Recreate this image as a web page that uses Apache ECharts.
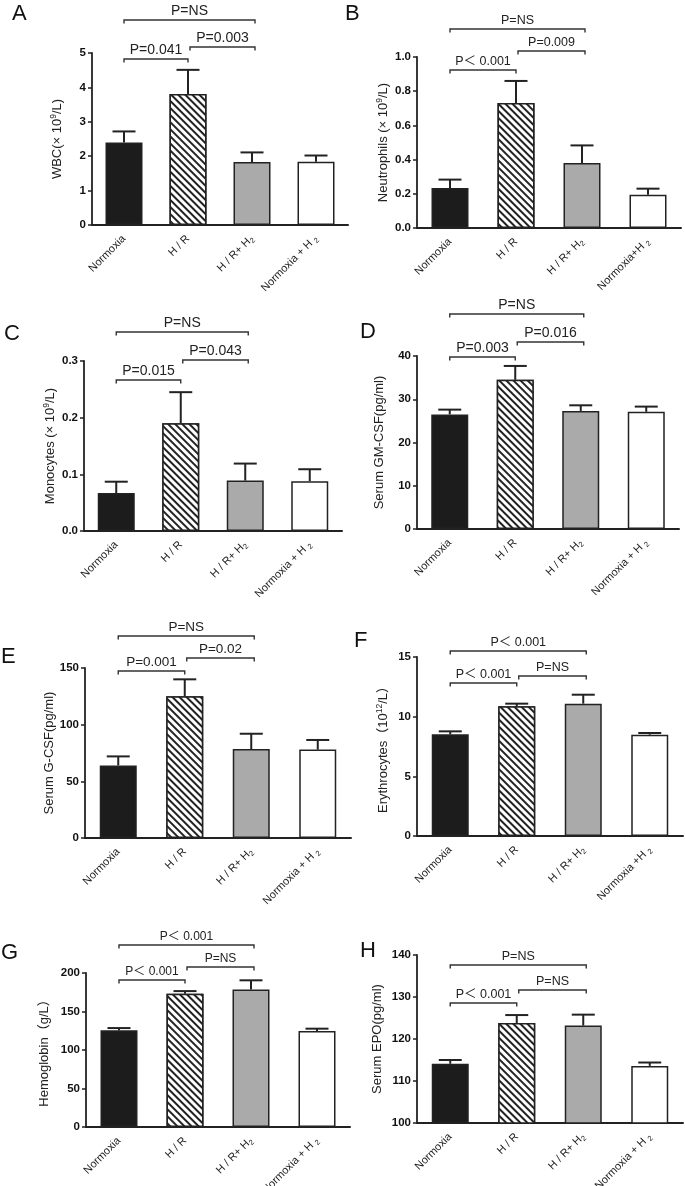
<!DOCTYPE html>
<html><head><meta charset="utf-8">
<script src="https://cdn.jsdelivr.net/npm/echarts@6.0.0/dist/echarts.min.js"></script>
<style>html,body{margin:0;padding:0;background:#fff}#c{width:685px;height:1186px}</style>
</head><body><div id="c"></div>
<script>
// ---------- DATA ----------
const categories  = ['Normoxia', 'H / R', 'H / R+ H2', 'Normoxia + H 2'];
const categoriesB = ['Normoxia', 'H / R', 'H / R+ H2', 'Normoxia+H 2'];
const categoriesF = ['Normoxia', 'H / R', 'H / R+ H2', 'Normoxia +H 2'];

const wbcMean   = [2.40, 3.81, 1.83, 1.84];
const wbcErr    = [2.72, 4.51, 2.11, 2.02];
const neuMean   = [0.234, 0.731, 0.380, 0.195];
const neuErr    = [0.283, 0.860, 0.483, 0.230];
const monoMean  = [0.067, 0.190, 0.089, 0.088];
const monoErr   = [0.087, 0.245, 0.119, 0.109];
const gmcsfMean = [26.5, 34.5, 27.3, 27.1];
const gmcsfErr  = [27.6, 37.7, 28.6, 28.3];
const gcsfMean  = [64, 125, 78.5, 78];
const gcsfErr   = [72, 140, 92, 86.5];
const eryMean   = [8.52, 10.87, 11.09, 8.49];
const eryErr    = [8.77, 11.09, 11.84, 8.63];
const hbMean    = [125.5, 173, 178.5, 124.7];
const hbErr     = [128.5, 176.5, 190.5, 127.7];
const epoMean   = [114.1, 123.8, 123.2, 113.6];
const epoErr    = [115.0, 125.7, 125.8, 114.4];

const compA = [[0,1,'P=0.041'],[1,2,'P=0.003'],[0,2,'P=NS']];
const compB = [[0,1,'P＜ 0.001'],[1,2,'P=0.009'],[0,2,'P=NS']];
const compC = [[0,1,'P=0.015'],[1,2,'P=0.043'],[0,2,'P=NS']];
const compD = [[0,1,'P=0.003'],[1,2,'P=0.016'],[0,2,'P=NS']];
const compE = [[0,1,'P=0.001'],[1,2,'P=0.02'],[0,2,'P=NS']];
const compF = [[0,1,'P＜ 0.001'],[1,2,'P=NS'],[0,2,'P＜ 0.001']];
const compG = [[0,1,'P＜ 0.001'],[1,2,'P=NS'],[0,2,'P＜ 0.001']];
const compH = [[0,1,'P＜ 0.001'],[1,2,'P=NS'],[0,2,'P=NS']];

const yTitles = ['WBC(× 10^9/L)', 'Neutrophils (× 10^9/L)', 'Monocytes (× 10^9/L)', 'Serum GM-CSF(pg/ml)',
                 'Serum G-CSF(pg/ml)', 'Erythrocytes（10^12/L）', 'Hemoglobin（g/L）', 'Serum EPO(pg/ml)'];
const letters = ['A','B','C','D','E','F','G','H'];

// ---------- LAYOUT / STYLE ----------
const FONT = '"Liberation Sans", Arial, "Noto Sans CJK SC", sans-serif';
const panels = [
  {cats: categories,  mean: wbcMean,   err: wbcErr,   comp: compA, min:0,   max:5,   iv:1,   dec:0,
   g:{left:92, top:53, width:256, height:172}, bOff:[6,-6,-33],   pFont:14,   nameGap:27, L:[20,15]},
  {cats: categoriesB, mean: neuMean,   err: neuErr,   comp: compB, min:0,   max:1,   iv:0.2, dec:1,
   g:{left:417, top:57, width:264, height:171}, bOff:[13,-6,-28], pFont:12.5, nameGap:26, L:[353,15]},
  {cats: categories,  mean: monoMean,  err: monoErr,  comp: compC, min:0,   max:0.3, iv:0.1, dec:1,
   g:{left:84, top:361, width:258, height:170}, bOff:[19,-1,-29], pFont:14,   nameGap:26, L:[12,335]},
  {cats: categories,  mean: gmcsfMean, err: gmcsfErr, comp: compD, min:0,   max:40,  iv:10,  dec:0,
   g:{left:417, top:356, width:262, height:173}, bOff:[1,-14,-42], pFont:14,  nameGap:31, L:[368,333]},
  {cats: categories,  mean: gcsfMean,  err: gcsfErr,  comp: compE, min:0,   max:150, iv:50,  dec:0,
   g:{left:85, top:668, width:266, height:170}, bOff:[3,-10,-32], pFont:13.5, nameGap:29, L:[9,658]},
  {cats: categoriesF, mean: eryMean,   err: eryErr,   comp: compF, min:0,   max:15,  iv:5,   dec:0,
   g:{left:417, top:657, width:266, height:179}, bOff:[26,19,-6], pFont:12.5, nameGap:26, L:[362,642]},
  {cats: categories,  mean: hbMean,    err: hbErr,    comp: compG, min:0,   max:200, iv:50,  dec:0,
   g:{left:86, top:973, width:264, height:154}, bOff:[7,-6,-28],  pFont:12,   nameGap:35, L:[9,954]},
  {cats: categories,  mean: epoMean,   err: epoErr,   comp: compH, min:100, max:140, iv:10,  dec:0,
   g:{left:417, top:955, width:266, height:168}, bOff:[48,35,10], pFont:12.5, nameGap:33, L:[368,952]}
];

const INK = '#222';
const barStyles = [
  {color:'#1c1c1c', borderColor:INK, borderWidth:1.5},
  {color:'#ffffff', borderColor:INK, borderWidth:1.5,
   decal:{symbol:'rect', symbolSize:1, color:'#222', backgroundColor:'#fff',
          dashArrayX:[1,0], dashArrayY:[1.3,2.2], rotation:Math.PI/4}},
  {color:'#aaaaaa', borderColor:INK, borderWidth:1.5},
  {color:'#ffffff', borderColor:INK, borderWidth:1.5}
];

function xLabel(v){
  if (/2$/.test(v)) return '{n|' + v.slice(0,-1) + '}{s|2}';
  return '{n|' + v + '}';
}
function yName(t){
  const parts = t.split(/\^(\d+)/);
  let out = '';
  parts.forEach((p,i)=>{ if(!p) return; out += (i%2 ? '{p|'+p+'}' : '{n|'+p+'}'); });
  return out;
}

const grid=[], xAxis=[], yAxis=[], series=[], graphic=[];
panels.forEach((P, k) => {
  grid.push(Object.assign({outerBoundsMode:'none', containLabel:false}, P.g));
  xAxis.push({type:'category', gridIndex:k, data:P.cats,
    axisLine:{lineStyle:{color:INK, width:2}},
    axisTick:{alignWithLabel:true, length:4, lineStyle:{color:INK, width:1.5}},
    axisLabel:{interval:0, rotate:45, margin:12, color:'#222', formatter:xLabel,
      rich:{n:{fontSize:11, fontFamily:FONT, color:'#222'},
            s:{fontSize:7.5, fontFamily:FONT, color:'#222', padding:[6,0,0,0]}}},
    splitLine:{show:false}});
  yAxis.push({type:'value', gridIndex:k, min:P.min, max:P.max, interval:P.iv,
    name:yName(yTitles[k]), nameLocation:'middle', nameGap:P.nameGap, nameRotate:90,
    nameTextStyle:{rich:{n:{fontSize:13, fontFamily:FONT, color:'#222'},
                         p:{fontSize:8.5, fontFamily:FONT, color:'#222', padding:[0,0,7,0]}}},
    axisLine:{show:true, lineStyle:{color:INK, width:1.8}},
    axisTick:{show:true, length:4, lineStyle:{color:INK, width:1.5}},
    axisLabel:{fontSize:11.5, fontWeight:'bold', fontFamily:FONT, color:'#111', margin:6,
      formatter:v=>v.toFixed(P.dec)},
    splitLine:{show:false}});
  series.push({type:'bar', xAxisIndex:k, yAxisIndex:k, barWidth:37, startValue:P.min,
    data:P.mean.map((v,i)=>({value:v, itemStyle:barStyles[i]})), z:2, silent:true});
  series.push({type:'custom', xAxisIndex:k, yAxisIndex:k, z:3, silent:true,
    data:P.mean.map((v,i)=>[i, v, P.err[i]]), encode:{x:0, y:[1,2]},
    renderItem:(params, api)=>{
      const a = api.coord([api.value(0), api.value(1)]);
      const b = api.coord([api.value(0), api.value(2)]);
      const hw = 11.5;
      return {type:'group', children:[
        {type:'line', shape:{x1:a[0], y1:a[1], x2:b[0], y2:b[1]}, style:{stroke:INK, lineWidth:2}},
        {type:'line', shape:{x1:b[0]-hw, y1:b[1], x2:b[0]+hw, y2:b[1]}, style:{stroke:INK, lineWidth:2}}
      ]};
    }});
  series.push({type:'custom', xAxisIndex:k, yAxisIndex:k, z:4, silent:true, clip:false,
    data:P.comp.map(c=>[c[0], P.min, c[1]]), encode:{x:0, y:1},
    renderItem:(params, api)=>{
      const idx = params.dataIndex;
      const from = api.value(0), to = api.value(2);
      let x1 = api.coord([from, P.min])[0] + (from===1 ? 2 : 0);
      let x2 = api.coord([to, P.min])[0] + (to===2 ? 3 : 0);
      const y = P.g.top + P.bOff[idx];
      const d = 3.5;
      return {type:'group', children:[
        {type:'polyline', shape:{points:[[x1,y+d],[x1,y],[x2,y],[x2,y+d]]},
         style:{stroke:'#333', lineWidth:1.4, fill:null}},
        {type:'text', style:{text:P.comp[idx][2], x:(x1+x2)/2, y:y-2, align:'center', verticalAlign:'bottom',
          textAlign:'center', textVerticalAlign:'bottom',
          font: P.pFont + 'px ' + FONT, fill:'#222'}}
      ]};
    }});
  graphic.push({type:'text', left:P.L[0]-8, top:P.L[1]-12,
    style:{text:letters[k], font:'22px ' + FONT, fill:'#111'}});
});

const chart = echarts.init(document.getElementById('c'), null, {renderer:'canvas'});
chart.setOption({animation:false, backgroundColor:'#fff', grid, xAxis, yAxis, series, graphic});
</script>
</body></html>
